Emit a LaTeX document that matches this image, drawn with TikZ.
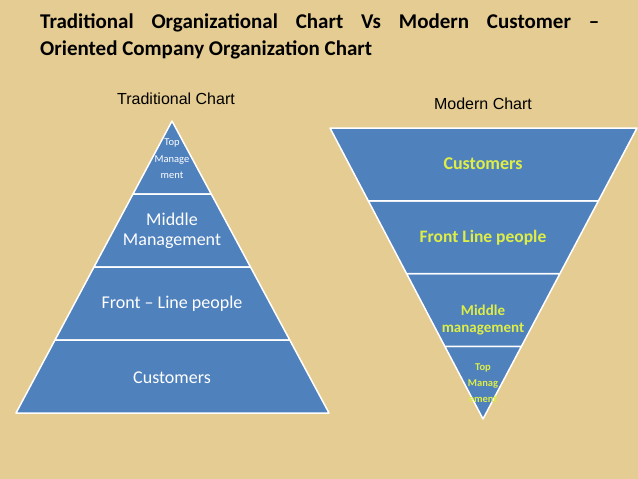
\documentclass[tikz,border=0pt]{standalone}
\usepackage{fontspec}
\setmainfont{Carlito}
\newfontfamily\arialfont{Liberation Sans}
\usetikzlibrary{calc}
\definecolor{papyrus}{RGB}{229,204,146}
\definecolor{slideblue}{RGB}{79,129,189}
\definecolor{lemon}{RGB}{222,238,70}

\begin{document}
\begin{tikzpicture}[x=1pt,y=-1pt,
    layer/.style={fill=slideblue,draw=white,line width=1.5pt,line join=round},
    oldtext/.style={text=white,align=center,inner sep=0pt},
    newtext/.style={text=lemon,align=center,inner sep=0pt},
    chartlabel/.style={font=\arialfont\fontsize{16}{19}\selectfont,inner sep=0pt},
    titleline/.style={anchor=base west,inner sep=0pt,font=\bfseries\fontsize{21}{25}\selectfont}]
  % Background
  \fill[papyrus] (0,0) rectangle (638,479);
  \useasboundingbox (0,0) rectangle (638,479);

  % Title
  \node[titleline] (title1) at (40,28)
    {\makebox[559pt][s]{Traditional Organizational Chart Vs Modern Customer –}};
  \node[titleline] (title2) at (40,55) {Oriented Company Organization Chart};

  % Chart labels
  \node[chartlabel] (oldlabel) at (176,99) {Traditional Chart};
  \node[chartlabel] (newlabel) at (483,104) {Modern Chart};

  % Traditional pyramid (apex up)
  \coordinate (oa) at (172,121);
  \coordinate (ol) at (16,413);
  \coordinate (or) at (329,413);
  \foreach \i/\j in {0/1,1/2,2/3,3/4}
    \draw[layer] ($(oa)!\i/4!(ol)$) -- ($(oa)!\j/4!(ol)$) -- ($(oa)!\j/4!(or)$) -- ($(oa)!\i/4!(or)$) -- cycle;

  \node[oldtext,font=\fontsize{10.5}{16.5}\selectfont] (otop) at (172,159) {Top\\Manage\\ment};
  \node[oldtext,font=\fontsize{18}{20}\selectfont] (omid) at (172,231) {Middle\\Management};
  \node[oldtext,font=\fontsize{18}{20}\selectfont] (ofront) at (172,304) {Front – Line people};
  \node[oldtext,font=\fontsize{18}{20}\selectfont] (ocust) at (172,378) {Customers};

  % Modern pyramid (apex down)
  \coordinate (na) at (483,419);
  \coordinate (nl) at (330,128);
  \coordinate (nr) at (637,128);
  \foreach \i/\j in {0/1,1/2,2/3,3/4}
    \draw[layer] ($(na)!\i/4!(nl)$) -- ($(na)!\j/4!(nl)$) -- ($(na)!\j/4!(nr)$) -- ($(na)!\i/4!(nr)$) -- cycle;

  \node[newtext,font=\bfseries\fontsize{18}{20}\selectfont] (ncust) at (483,164) {Customers};
  \node[newtext,font=\bfseries\fontsize{17.5}{20}\selectfont] (nfront) at (483,238) {Front Line people};
  \node[newtext,font=\bfseries\fontsize{15}{17}\selectfont] (nmid) at (483,320) {Middle\\management};
  \node[newtext,font=\bfseries\fontsize{10.5}{16}\selectfont] (ntop) at (483,383) {Top\\Manag\\ement};
\end{tikzpicture}
\end{document}
